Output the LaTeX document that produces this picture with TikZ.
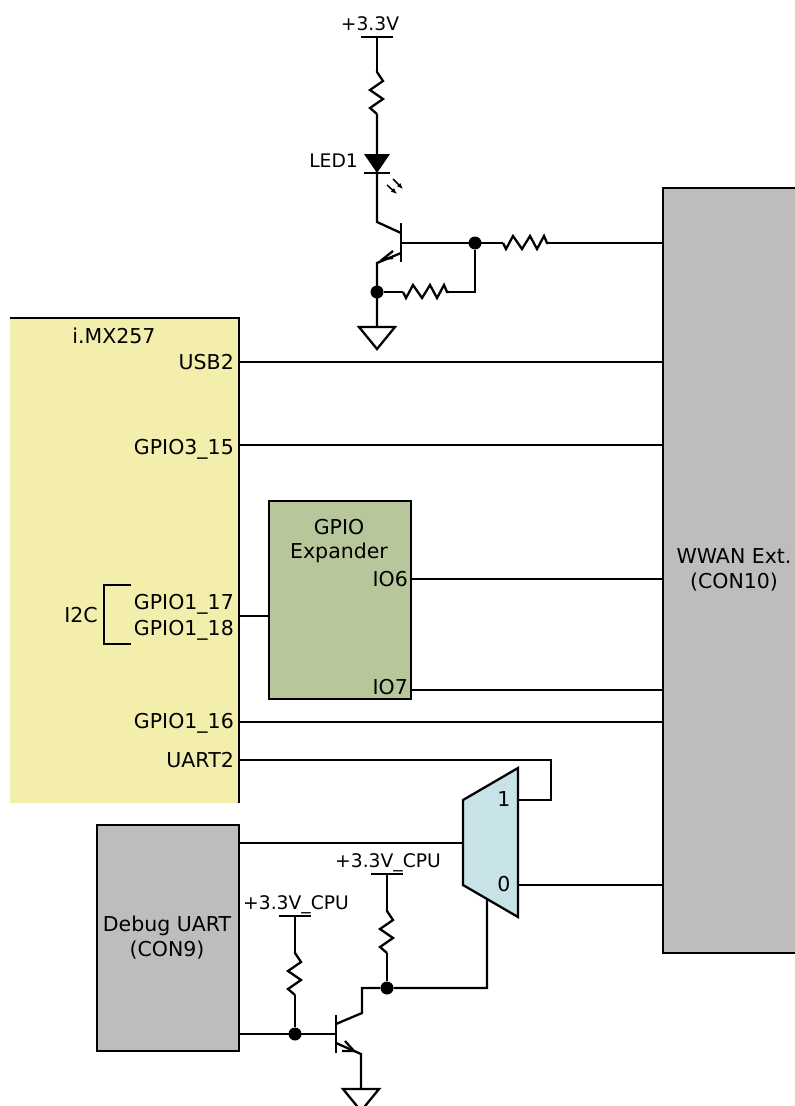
\documentclass[tikz,border=0pt]{standalone}
\usepackage{fontspec}
\setmainfont{DejaVu Sans}
\usepackage{tikz}
\usetikzlibrary{arrows.meta,calc}

\definecolor{cpuyellow}{HTML}{F4EEAD}
\definecolor{expgreen}{HTML}{B8C79B}
\definecolor{muxblue}{HTML}{C7E3E8}
\definecolor{congray}{HTML}{BFBDBB}

\tikzset{
  wire/.style={line width=2.3pt,line join=miter},
  lbl/.style={inner sep=0pt,font=\fontsize{20.5}{25}\selectfont},
  pwr/.style={inner sep=0pt,font=\fontsize{18.7}{22}\selectfont},
  block/.style={draw,line width=2.3pt,inner sep=0pt,outer sep=0pt,anchor=north west},
  jdot/.style={circle,fill,inner sep=0pt,minimum size=13pt},
  resv/.pic={\draw[wire] (0,0)--(0,1)--(6,10)--(-7,19)--(6,28)--(-7,37)--(0,43);},
  resh/.pic={\draw[wire] (0,0)--(3,6)--(10,-7)--(19,6)--(27,-7)--(34,6)--(41,-7)--(44,0)--(46,0);},
  gnd/.pic={\draw[wire] (-18,0)--(18,0)--(0,22)--cycle;},
  rail/.pic={\draw[wire] (-16,0)--(16,0);}
}

\begin{document}
\begin{tikzpicture}[x=1pt,y=-1pt]

\useasboundingbox (0,0) rectangle (795,1106);

% blocks
\node[block,draw=none,fill=cpuyellow,minimum width=229pt,minimum height=485pt] (cpu) at (10,318) {};
\draw[wire] (cpu.north west)--(cpu.north east)--(cpu.south east);
\node[block,fill=congray,minimum width=142pt,minimum height=765pt] (wwan) at (663,188) {};
\node[block,fill=expgreen,minimum width=142pt,minimum height=198pt] (exp) at (269,501) {};
\node[block,fill=congray,minimum width=142pt,minimum height=226pt] (dbg) at (97,825) {};
\coordinate (muxA) at (463,800);
\coordinate (muxB) at (518,768);
\coordinate (muxC) at (518,917);
\coordinate (muxD) at (463,885);
\draw[wire,fill=muxblue] (muxA)--(muxB)--(muxC)--(muxD)--cycle;

% labels
\node[lbl] at (114,336) {i.MX257};
\node[lbl,anchor=east] (usb) at (234,362) {USB2};
\node[lbl,anchor=east] (gp315) at (234,449) {GPIO3\_15};
\node[lbl,anchor=east] (gp117) at (234,604) {GPIO1\_17};
\node[lbl,anchor=east] (gp118) at (234,630) {GPIO1\_18};
\node[lbl,anchor=east] (gp116) at (234,723) {GPIO1\_16};
\node[lbl,anchor=east] (uart) at (234,760) {UART2};
\node[lbl] at (81,615) {I2C};
\node[lbl] at (339,527) {GPIO};
\node[lbl] at (339,553) {Expander};
\node[lbl,anchor=east] (io6) at (408,579) {IO6};
\node[lbl,anchor=east] (io7) at (408,687) {IO7};
\node[lbl,align=center] at (734,570) {WWAN Ext.\\(CON10)};
\node[lbl,align=center] at (167,938) {Debug UART\\(CON9)};
\node[lbl] at (504,799) {1};
\node[lbl] at (504,884) {0};
\node[pwr] at (370,24) {+3.3V};
\node[pwr,anchor=east] at (358,161) {LED1};
\node[pwr] at (388,863) {+3.3V\_CPU};
\node[pwr] at (296,905) {+3.3V\_CPU};

% i2c bracket
\draw[wire] (131,585)--(104,585)--(104,644)--(131,644);

% straight signals
\draw[wire] (cpu.east |- usb)--(wwan.west |- usb);
\draw[wire] (cpu.east |- 0,445)--(wwan.west |- 0,445);
\draw[wire] (cpu.east |- 0,616)--(exp.west |- 0,616);
\draw[wire] (exp.east |- io6)--(wwan.west |- io6);
\draw[wire] (exp.east |- 0,690)--(wwan.west |- 0,690);
\draw[wire] (cpu.east |- 0,722)--(wwan.west |- 0,722);
\draw[wire] (cpu.east |- uart)--(551,760)--(551,800)--(518,800);
\draw[wire] (dbg.east |- 0,843)--(muxA |- 0,843);
\draw[wire] (muxC |- muxD)--(wwan.west |- muxD);

% led branch
\coordinate (q1c) at (401,233);
\coordinate (q1e) at (401,253);
\pic at (377,37) {rail};
\draw[wire] (377,37)--(377,71);
\pic at (377,71) {resv};
\draw[wire] (377,114)--(377,222)--(q1c);
\fill (364,154)--(390,154)--(377,173)--cycle;
\draw[wire] (364,173)--(390,173);
\draw[line width=1.5pt,-{Latex[length=6pt,width=5pt]}] (393,179)--(403,189);
\draw[line width=1.5pt,-{Latex[length=6pt,width=5pt]}] (387,185)--(397,194);
\draw[wire] (401,223)--(401,262);
\draw[wire] (401,243)--(503,243);
\pic at (503,243) {resh};
\draw[wire] (549,243)--(wwan.west |- 0,243);
\draw[wire] (q1e)--(377,263)--(377,327);
\draw[wire] (393,251)--(383,259)--(393,258);
\node[jdot] (n1) at (475,243) {};
\node[jdot] (n2) at (377,292) {};
\draw[wire] (n2)--(403,292);
\pic at (403,292) {resh};
\draw[wire] (449,292)--(475,292)--(n1);
\pic at (377,327) {gnd};

% debug branch
\node[jdot] (n3) at (295,1034) {};
\node[jdot] (n4) at (387,988) {};
\draw[wire] (dbg.east |- n3)--(336,1034);
\pic at (295,916) {rail};
\draw[wire] (295,916)--(295,952);
\pic at (295,952) {resv};
\draw[wire] (295,995)--(n3);
\pic at (387,874) {rail};
\draw[wire] (387,874)--(387,910);
\pic at (387,910) {resv};
\draw[wire] (387,953)--(n4);
\draw[wire] (336,1015)--(336,1053);
\draw[wire] (336,1024)--(362,1013)--(362,988)--(n4)--(487,988)--(487,900);
\draw[wire] (336,1043)--(361,1054)--(361,1089);
\draw[wire] (345,1041)--(354,1051)--(342,1051);
\pic at (361,1089) {gnd};

\end{tikzpicture}
\end{document}
